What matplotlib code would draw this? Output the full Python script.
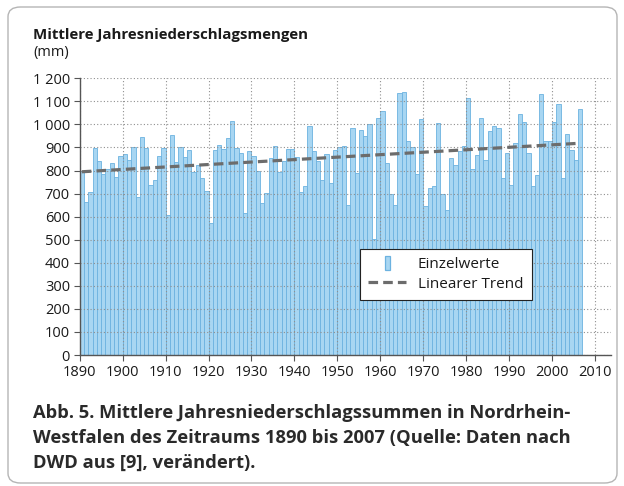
import numpy as np
import matplotlib.pyplot as plt
from matplotlib.patches import FancyBboxPatch, Rectangle
from matplotlib.legend_handler import HandlerPatch
from matplotlib.ticker import FuncFormatter

plt.rcParams['font.family'] = ['Open Sans', 'DejaVu Sans']

# Jahresniederschlag NRW (mm)
years = np.arange(1891, 2008)
niederschlag = [
    800, 662, 708, 896, 842, 783, 806, 832, 773, 864,
    870, 844, 900, 685, 947, 897, 738, 760, 864, 896,
    608, 955, 835, 904, 858, 888, 792, 822, 767, 712,
    572, 890, 911, 893, 942, 1015, 896, 875, 616, 883,
    864, 799, 659, 702, 854, 906, 792, 842, 894, 894,
    858, 705, 733, 994, 883, 842, 760, 870, 745, 890,
    900, 907, 650, 984, 789, 977, 950, 1002, 503, 1027,
    1060, 831, 700, 651, 1135, 1139, 930, 904, 786, 1023,
    647, 723, 735, 1008, 700, 630, 854, 822, 883, 907,
    1113, 808, 868, 1027, 846, 972, 991, 986, 767, 875,
    738, 919, 1046, 1010, 878, 734, 780, 1132, 930, 926,
    1010, 1089, 767, 960, 888, 844, 1066,
]
x_ticks = list(range(1890, 2011, 10))
y_ticks = list(range(0, 1201, 100))
legend_labels = ['Einzelwerte', 'Linearer Trend']
caption_lines = [
    'Abb. 5. Mittlere Jahresniederschlagssummen in Nordrhein-',
    'Westfalen des Zeitraums 1890 bis 2007 (Quelle: Daten nach',
    'DWD aus [9], verändert).',
]

bar_fill = '#a8d6f2'
bar_edge = '#6cb2e0'

fig = plt.figure(figsize=(6.24, 4.86), dpi=100)

# rounded frame around the whole figure
frame = FancyBboxPatch((8 / 624, 3 / 486), 609 / 624, 476 / 486,
                       boxstyle='round,pad=0,rounding_size=0.02',
                       transform=fig.transFigure, facecolor='none',
                       edgecolor='#b5b5b5', linewidth=1.0, zorder=10)
fig.patches.append(frame)

ax = fig.add_axes([0.1277, 0.2695, 0.8513, 0.5694])
ax.set_facecolor('none')

x = years - 0.5
ax.bar(x, niederschlag, width=1.0, color=bar_fill, edgecolor=bar_edge,
       linewidth=0.6, zorder=1)

# linearer Trend
coef = np.polyfit(x, niederschlag, 1)
trend_line, = ax.plot(x, np.polyval(coef, x), color='#6c6c6c', lw=2.3,
                      dashes=(3, 1.6), zorder=3)

ax.set_xlim(1890, 2013.7)
ax.set_ylim(0, 1200)
ax.set_xticks(x_ticks)
ax.set_yticks(y_ticks)
ax.yaxis.set_major_formatter(FuncFormatter(lambda v, p: f'{v:,.0f}'.replace(',', ' ')))

ax.set_axisbelow(False)
ax.grid(True, color='#8f8f8f', linestyle=(0, (1, 2)), linewidth=0.8)

for s in ['top', 'right']:
    ax.spines[s].set_visible(False)
for s in ['left', 'bottom']:
    ax.spines[s].set_color('#555555')
    ax.spines[s].set_linewidth(1.0)
    ax.spines[s].set_zorder(4)
ax.tick_params(axis='both', labelsize=10.5, labelcolor='#1a1a1a', color='#555555',
               length=4, width=0.8, direction='out', pad=3)


def narrow_patch(legend, orig_handle, xdescent, ydescent, width, height, fontsize):
    return Rectangle((-xdescent + width / 2 - 1.8, -ydescent - 1), 3.6, height + 2)


bar_proxy = Rectangle((0, 0), 1, 1, facecolor=bar_fill, edgecolor=bar_edge, linewidth=0.9)
leg = ax.legend([bar_proxy, trend_line], legend_labels, loc='upper left',
                bbox_to_anchor=(0.527, 0.384), borderaxespad=0, frameon=True,
                fancybox=False, edgecolor='#222222', framealpha=1, fontsize=11,
                handlelength=2.5, handletextpad=0.75, borderpad=0.55, labelspacing=0.3,
                handler_map={Rectangle: HandlerPatch(patch_func=narrow_patch)})
leg.get_frame().set_linewidth(0.8)
leg.set_zorder(5)
for t in leg.get_texts():
    t.set_color('#1a1a1a')

fig.text(0.053, 0.928, 'Mittlere Jahresniederschlagsmengen', fontsize=10.8,
         fontweight='bold', color='#1a1a1a', va='center')
fig.text(0.053, 0.891, '(mm)', fontsize=10.5, color='#1a1a1a', va='center')

for i, line in enumerate(caption_lines):
    fig.text(0.053, 0.150 - i * 0.0515, line, fontsize=13.2, fontweight='bold',
             color='#2a2a2a', va='center')

fig.savefig('out.png', dpi=100)
